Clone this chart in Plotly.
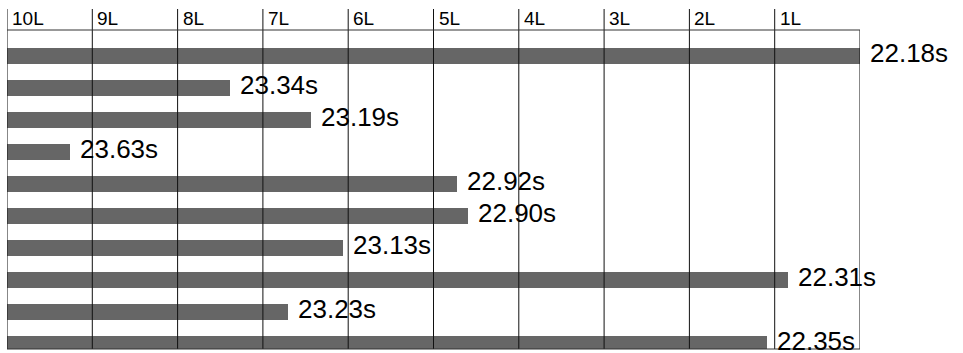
import plotly.graph_objects as go

# Data
rows = ["R1", "R2", "R3", "R4", "R5", "R6", "R7", "R8", "R9", "R10"]
bar_lengths = [10.0, 2.62, 3.56, 0.74, 5.27, 5.40, 3.94, 9.16, 3.30, 8.91]
time_labels = ["22.18s", "23.34s", "23.19s", "23.63s", "22.92s",
               "22.90s", "23.13s", "22.31s", "23.23s", "22.35s"]
tick_positions = [0, 1, 2, 3, 4, 5, 6, 7, 8, 9]
tick_labels = ["10L", "9L", "8L", "7L", "6L", "5L", "4L", "3L", "2L", "1L"]

FONT = "Liberation Sans, Arial, Helvetica, sans-serif"
W, H = 963, 353
ML, MR, MT, MB = 7, 103, 30, 4
plot_h = H - MT - MB
ext_top = 1 + (MT - 9) / plot_h  # grid lines reach up to ~y=9px

fig = go.Figure()
fig.add_trace(go.Bar(
    x=bar_lengths, y=rows, orientation="h",
    marker=dict(color="#666666", line=dict(width=0)),
    width=0.5, hoverinfo="skip", showlegend=False,
))

shapes = []
for t in tick_positions:
    shapes.append(dict(type="line", xref="x", yref="paper", x0=t, x1=t,
                       y0=0, y1=ext_top, line=dict(color="#111111", width=1),
                       layer="above"))
# right border
shapes.append(dict(type="line", xref="x", yref="paper", x0=10, x1=10,
                   y0=0, y1=1, line=dict(color="#111111", width=1), layer="above"))
# top and bottom lines
for yy in (0, 1):
    shapes.append(dict(type="line", xref="x", yref="paper", x0=0, x1=10,
                       y0=yy, y1=yy, line=dict(color="#333333", width=1),
                       layer="above"))

annotations = []
for t, lab in zip(tick_positions, tick_labels):
    annotations.append(dict(x=t, y=1 + (MT - 18.5) / plot_h, xref="x", yref="paper",
                            text=lab, showarrow=False, xanchor="left",
                            yanchor="middle", xshift=3,
                            font=dict(family=FONT, size=19, color="black")))
for r, v, lab in zip(rows, bar_lengths, time_labels):
    annotations.append(dict(x=v, y=r, xref="x", yref="y", text=lab,
                            showarrow=False, xanchor="left", yanchor="middle",
                            xshift=8, yshift=3,
                            font=dict(family=FONT, size=26, color="black")))

unit = 32.0
top_val = -26 / unit
bottom_val = top_val + plot_h / unit

fig.update_layout(
    width=W, height=H,
    margin=dict(l=ML, r=MR, t=MT, b=MB, pad=0),
    paper_bgcolor="white", plot_bgcolor="white",
    xaxis=dict(range=[0, 10], showgrid=False, zeroline=False,
               showticklabels=False, ticks="", showline=False, fixedrange=True),
    yaxis=dict(type="category", categoryorder="array", categoryarray=rows,
               range=[bottom_val, top_val], showgrid=False, zeroline=False,
               showticklabels=False, ticks="", showline=False, fixedrange=True),
    shapes=shapes, annotations=annotations,
    bargap=0, showlegend=False,
)

fig.write_html("out.html", config={"displayModeBar": False},
               post_script="document.body.style.margin='0';document.body.style.overflow='hidden';")
